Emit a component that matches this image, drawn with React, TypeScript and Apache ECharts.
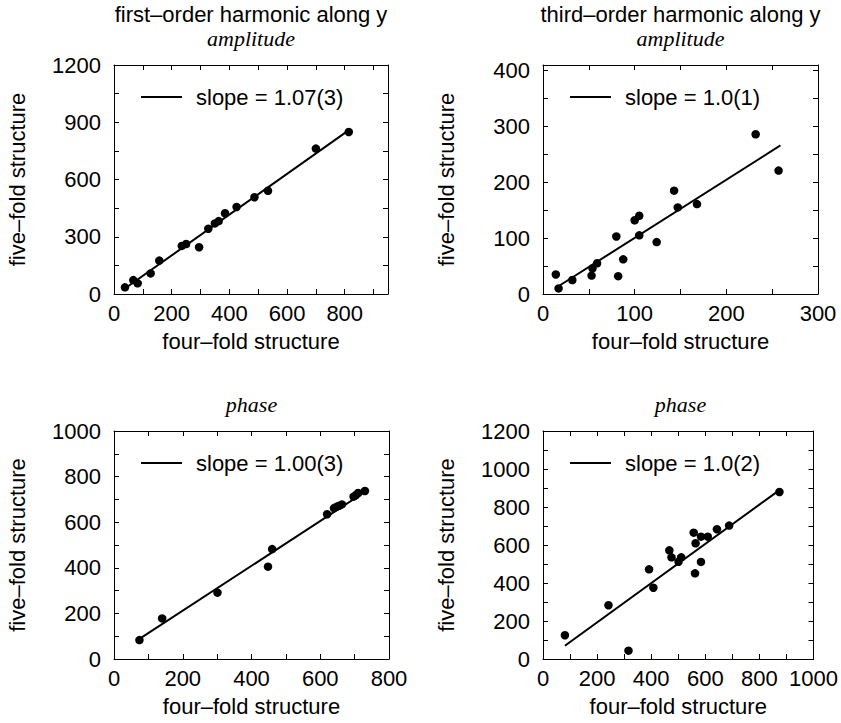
import React, { useEffect, useRef } from "react";
import * as echarts from "echarts";

// ---- data ----
const panelTitles = ["first–order harmonic along y", "third–order harmonic along y", "", ""];
const panelSubtitles = ["amplitude", "amplitude", "phase", "phase"];
const slopeLabels = ["slope = 1.07(3)", "slope = 1.0(1)", "slope = 1.00(3)", "slope = 1.0(2)"];
const xAxisName = "four–fold structure";
const yAxisName = "five–fold structure";

// axis settings: [min, max, tick step, label step]
const xAxisRanges = [
  [0, 950, 100, 200],
  [0, 300, 50, 100],
  [0, 800, 100, 200],
  [0, 1000, 100, 200],
];
const yAxisRanges = [
  [0, 1200, 150, 300],
  [0, 410, 50, 100],
  [0, 1000, 100, 200],
  [0, 1200, 100, 200],
];

// panel 1: first-order amplitude
const amp1Four = [38, 67, 82, 127, 157, 235, 250, 295, 327, 350, 363, 385, 425, 487, 534, 700, 814];
const amp1Five = [35, 73, 56, 108, 175, 252, 262, 245, 342, 370, 382, 423, 456, 507, 541, 762, 849];
const amp1FitX = [50, 812];
const amp1FitY = [42, 856];

// panel 2: third-order amplitude
const amp3Four = [14, 17, 32, 53, 54, 59, 80, 82, 87.5, 100, 105, 105, 124, 143, 147, 168, 232, 257];
const amp3Five = [35, 10, 25, 33, 46, 55, 103, 32, 62, 132, 140, 105, 93, 185, 155, 161, 286, 221];
const amp3FitX = [16, 259];
const amp3FitY = [13, 266];

// panel 3: first-order phase
const ph1Four = [74, 140, 301, 448, 460, 620, 640, 648, 655, 663, 697, 703, 710, 730];
const ph1Five = [83, 178, 291, 405, 482, 635, 662, 668, 672, 678, 712, 718, 728, 737];
const ph1FitX = [74, 734];
const ph1FitY = [88, 737];

// panel 4: third-order phase
const ph3Four = [81, 242, 316, 392, 408, 467, 475, 501, 511, 557, 562, 564, 584, 584, 609, 643, 688, 874];
const ph3Five = [125, 283, 44, 472, 375, 572, 535, 512, 535, 665, 451, 609, 644, 511, 644, 683, 702, 879];
const ph3FitX = [81, 874];
const ph3FitY = [70, 889];

const panelsFour = [amp1Four, amp3Four, ph1Four, ph3Four];
const panelsFive = [amp1Five, amp3Five, ph1Five, ph3Five];
const fitsX = [amp1FitX, amp3FitX, ph1FitX, ph3FitX];
const fitsY = [amp1FitY, amp3FitY, ph1FitY, ph3FitY];

// ---- layout ----
const grids = [
  { left: 114, top: 65, width: 274, height: 229 },
  { left: 543, top: 65, width: 275, height: 229 },
  { left: 114, top: 431, width: 275, height: 228 },
  { left: 543, top: 431, width: 275, height: 228 },
];

const SANS = "Liberation Sans, Arial, Helvetica, sans-serif";
const SERIF = "Liberation Serif, Times New Roman, serif";
const FS = 22;

function labelFormatter(step: number) {
  return (v: number) => {
    const r = Math.abs(v / step - Math.round(v / step));
    return r < 1e-6 ? String(Math.round(v)) : "";
  };
}

export default function App() {
  const ref = useRef<HTMLDivElement>(null);

  useEffect(() => {
    if (!ref.current) return;
    const chart = echarts.init(ref.current, undefined, { renderer: "svg" });

    const xAxes: any[] = [];
    const yAxes: any[] = [];
    const series: any[] = [];
    const graphics: any[] = [];

    grids.forEach((g, i) => {
      const [xmin, xmax, xstep, xlab] = xAxisRanges[i];
      const [ymin, ymax, ystep, ylab] = yAxisRanges[i];
      const lineStyle = { color: "#000", width: 1 };
      const tick = { show: true, inside: true, length: 5, lineStyle: { color: "#000", width: 1 } };
      xAxes.push({
        type: "value",
        gridIndex: i,
        position: "bottom",
        min: xmin,
        max: xmax,
        interval: xstep,
        axisLine: { show: true, onZero: false, lineStyle },
        axisTick: tick,
        splitLine: { show: false },
        axisLabel: {
          show: true,
          margin: 8,
          color: "#000",
          fontFamily: SANS,
          fontSize: FS,
          formatter: labelFormatter(xlab),
        },
        name: xAxisName,
        nameLocation: "middle",
        nameGap: 36,
        nameTextStyle: { color: "#000", fontFamily: SANS, fontSize: FS },
      });
      xAxes.push({
        type: "value",
        gridIndex: i,
        position: "top",
        min: xmin,
        max: xmax,
        interval: xstep,
        axisLine: { show: true, onZero: false, lineStyle },
        axisTick: tick,
        splitLine: { show: false },
        axisLabel: { show: false },
      });
      yAxes.push({
        type: "value",
        gridIndex: i,
        position: "left",
        min: ymin,
        max: ymax,
        interval: ystep,
        axisLine: { show: true, onZero: false, lineStyle },
        axisTick: tick,
        splitLine: { show: false },
        axisLabel: {
          show: true,
          margin: 13,
          color: "#000",
          fontFamily: SANS,
          fontSize: FS,
          formatter: labelFormatter(ylab),
        },
        name: yAxisName,
        nameLocation: "middle",
        nameGap: 86,
        nameTextStyle: { color: "#000", fontFamily: SANS, fontSize: FS },
      });
      yAxes.push({
        type: "value",
        gridIndex: i,
        position: "right",
        min: ymin,
        max: ymax,
        interval: ystep,
        axisLine: { show: true, onZero: false, lineStyle },
        axisTick: tick,
        splitLine: { show: false },
        axisLabel: { show: false },
      });

      series.push({
        type: "line",
        xAxisIndex: 2 * i,
        yAxisIndex: 2 * i,
        data: fitsX[i].map((x, k) => [x, fitsY[i][k]]),
        symbol: "none",
        lineStyle: { color: "#000", width: 2 },
        silent: true,
        z: 2,
      });
      series.push({
        type: "scatter",
        xAxisIndex: 2 * i,
        yAxisIndex: 2 * i,
        data: panelsFour[i].map((x, k) => [x, panelsFive[i][k]]),
        symbol: "circle",
        symbolSize: 8.5,
        itemStyle: { color: "#000", opacity: 1 },
        z: 3,
      });

      const cx = g.left + g.width / 2;
      if (panelTitles[i]) {
        graphics.push({
          type: "text",
          x: cx,
          y: g.top - 51,
          style: {
            text: panelTitles[i],
            fill: "#000",
            font: `${FS}px ${SANS}`,
            align: "center",
            verticalAlign: "middle",
          },
        });
      }
      graphics.push({
        type: "text",
        x: cx,
        y: g.top - 27,
        style: {
          text: panelSubtitles[i],
          fill: "#000",
          font: `italic 22px ${SERIF}`,
          align: "center",
          verticalAlign: "middle",
        },
      });
      // legend
      const ly = g.top + 32;
      graphics.push({
        type: "line",
        shape: { x1: g.left + 27, y1: ly, x2: g.left + 68, y2: ly },
        style: { stroke: "#000", lineWidth: 2 },
      });
      graphics.push({
        type: "text",
        x: g.left + 82,
        y: ly,
        style: {
          text: slopeLabels[i],
          fill: "#000",
          font: `${FS}px ${SANS}`,
          align: "left",
          verticalAlign: "middle",
        },
      });
    });

    chart.setOption({
      animation: false,
      backgroundColor: "#fff",
      grid: grids.map((g) => ({ ...g, containLabel: false })),
      xAxis: xAxes,
      yAxis: yAxes,
      series,
      graphic: graphics,
    });

    return () => chart.dispose();
  }, []);

  return (
    <div
      ref={ref}
      style={{ position: "fixed", left: 0, top: 0, width: 841, height: 723, background: "#fff" }}
    />
  );
}
